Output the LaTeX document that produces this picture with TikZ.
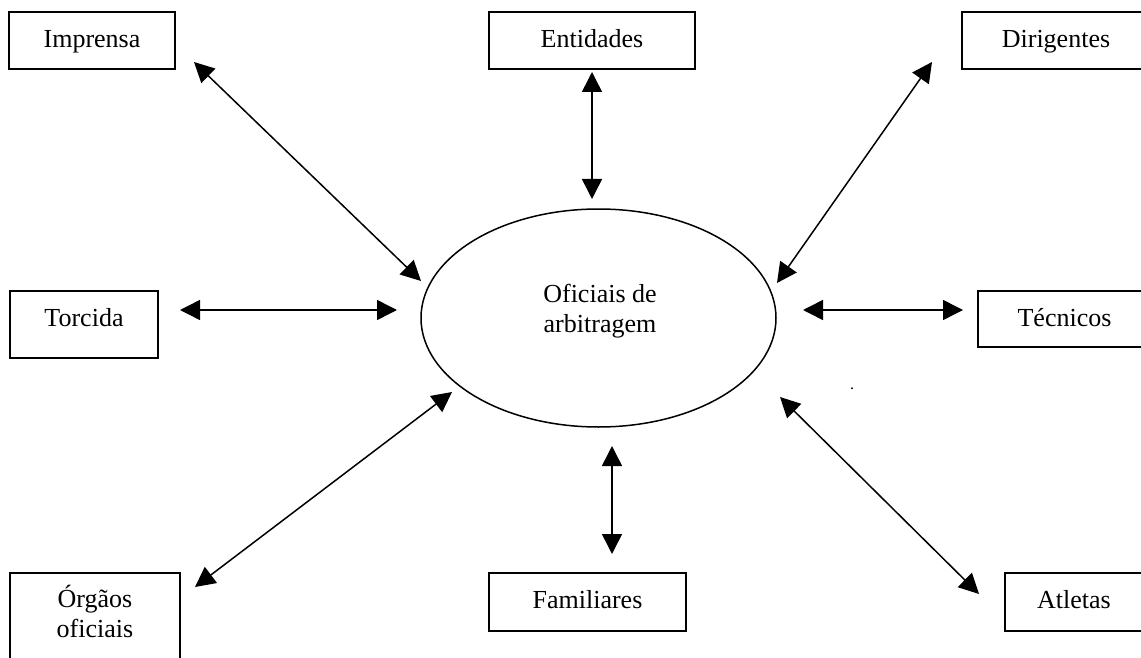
\documentclass[tikz,border=0pt]{standalone}
\usepackage{fontspec}
\setmainfont{Liberation Serif}
\usetikzlibrary{shapes.geometric,arrows.meta}
\begin{document}
\begin{tikzpicture}[x=1pt,y=-1pt,
  every node/.style={font=\fontsize{26}{30}\selectfont},
  box/.style={draw,line width=1.5pt,rectangle,inner sep=0pt,align=center,text height=18pt,text depth=3pt},
  biarrow/.style={line width=1.5pt,{Triangle[length=20pt,width=20pt]}-{Triangle[length=20pt,width=20pt]}}]
\useasboundingbox (0,0) rectangle (1141,658);
\clip (0,0) rectangle (1141,658);
% central ellipse
\node[draw,ellipse,line width=1.5pt,minimum width=355pt,minimum height=218pt,inner sep=0pt] (ofi) at (598.5,318) {};
\node[align=center,inner sep=0pt] (ofitxt) at (600,311) {Oficiais de\\arbitragem};
% boxes
\node[box,minimum width=166pt,minimum height=57pt] (imp) at (92,40.5) {Imprensa};
\node[box,minimum width=206pt,minimum height=57pt] (ent) at (592,40.5) {Entidades};
\node[box,minimum width=188pt,minimum height=57pt] (dir) at (1056,40.5) {Dirigentes};
\node[box,minimum width=148pt,minimum height=67pt,text depth=15pt] (tor) at (84,324.5) {Torcida};
\node[box,minimum width=173pt,minimum height=56pt] (tec) at (1064.5,319) {Técnicos};
\node[box,minimum width=170pt,minimum height=100pt,text height=,text depth=23pt] (org) at (95,623) {Órgãos\\oficiais};
\node[box,minimum width=197pt,minimum height=58pt,text depth=5pt] (fam) at (587.5,602) {Familiares};
\node[box,minimum width=138pt,minimum height=58pt,text depth=5pt] (atl) at (1074,602) {Atletas};
% stray dot
\node[inner sep=0pt,font=\fontsize{16}{16}\selectfont] (dot) at (852,389) {.};
% arrow end points
\coordinate (a1) at (194,62);  \coordinate (b1) at (421,281);
\coordinate (a2) at (592,72);  \coordinate (b2) at (592,199);
\coordinate (a3) at (932,62);  \coordinate (b3) at (777,283);
\coordinate (a4) at (180,310); \coordinate (b4) at (397,310);
\coordinate (a5) at (803,310); \coordinate (b5) at (963,310);
\coordinate (a6) at (195,587); \coordinate (b6) at (452,392);
\coordinate (a7) at (612,446); \coordinate (b7) at (612,554);
\coordinate (a8) at (780,397); \coordinate (b8) at (979,594);
\draw[biarrow] (a1) -- (b1);
\draw[biarrow] (a2) -- (b2);
\draw[biarrow] (a3) -- (b3);
\draw[biarrow] (a4) -- (b4);
\draw[biarrow] (a5) -- (b5);
\draw[biarrow] (a6) -- (b6);
\draw[biarrow] (a7) -- (b7);
\draw[biarrow] (a8) -- (b8);
\end{tikzpicture}
\end{document}
